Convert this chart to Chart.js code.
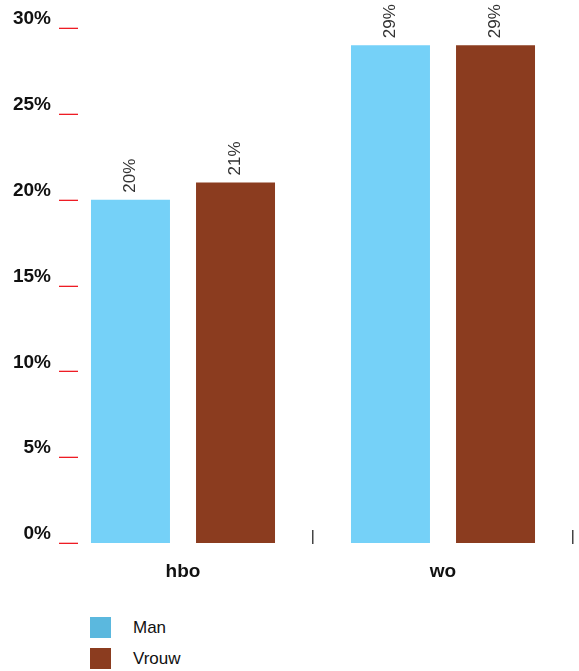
<!DOCTYPE html>
<html lang="nl">
<head>
  <meta charset="UTF-8">
  <title>hbo / wo</title>
  <script src="https://cdn.jsdelivr.net/npm/chart.js"></script>
  <style>
    body {
      margin: 0;
      background: #fff;
      font-family: 'Liberation Sans', Arial, sans-serif;
    }
    #wrap {
      position: relative;
      width: 579px;
      height: 671px;
    }
    #box {
      width: 579px;
      height: 600px;
    }
    #legend {
      position: absolute;
      left: 90px;
      top: 617px;
    }
    .item {
      display: flex;
      align-items: center;
      height: 21px;
      margin-bottom: 10px;
      font-size: 17px;
      color: #111;
    }
    .swatch {
      width: 21px;
      height: 21px;
      margin-right: 22px;
    }
  </style>
</head>
<body>
  <div id="wrap">
    <div id="box"><canvas id="chart"></canvas></div>
    <div id="legend"></div>
  </div>

  <script>
    const categories = ["hbo", "wo"];
    const seriesNames = ["Man", "Vrouw"];
    const manValues = [20, 29];
    const vrouwValues = [21, 29];
    const barColors = ["#75d1f8", "#8b3c1f"];
    const legendColors = ["#5bb8de", "#8b3c1f"];
    const yTicks = [0, 5, 10, 15, 20, 25, 30];

    // red tick marks next to the y labels, black boundary ticks on x, rotated labels on bars
    const extras = {
      id: "extras",
      afterDatasetsDraw(chart) {
        const ctx = chart.ctx;
        const area = chart.chartArea;
        const y = chart.scales.y;
        const x = chart.scales.x;

        ctx.save();
        ctx.fillStyle = "#ee1c24";
        yTicks.forEach(v => {
          const py = Math.round(y.getPixelForValue(v));
          ctx.fillRect(area.left + 6, py - 0.3, 19, 1.3);
        });

        const half = (x.getPixelForValue(1) - x.getPixelForValue(0)) / 2;
        ctx.fillStyle = "#444";
        categories.forEach((c, i) => {
          const px = Math.round(x.getPixelForValue(i) + half);
          ctx.fillRect(px - 1, area.bottom - 13, 1.5, 14);
        });

        ctx.fillStyle = "#333";
        ctx.font = "17px 'Liberation Sans', Arial, sans-serif";
        ctx.textAlign = "left";
        ctx.textBaseline = "middle";
        chart.data.datasets.forEach((ds, di) => {
          chart.getDatasetMeta(di).data.forEach((bar, i) => {
            ctx.save();
            ctx.translate(bar.x, bar.y - 7);
            ctx.rotate(-Math.PI / 2);
            ctx.fillText(Math.round(ds.data[i]) + "%", 0, 0);
            ctx.restore();
          });
        });
        ctx.restore();
      }
    };

    new Chart(document.getElementById("chart"), {
      type: "bar",
      data: {
        labels: categories,
        datasets: [
          { label: seriesNames[0], data: manValues, backgroundColor: barColors[0] },
          { label: seriesNames[1], data: vrouwValues, backgroundColor: barColors[1] }
        ]
      },
      options: {
        responsive: true,
        maintainAspectRatio: false,
        animation: false,
        categoryPercentage: 0.808,
        barPercentage: 0.752,
        layout: { padding: { top: 28, right: 6, left: 0, bottom: 0 } },
        plugins: {
          legend: { display: false },
          tooltip: { enabled: false }
        },
        scales: {
          x: {
            grid: { display: false, drawTicks: false, tickLength: 0 },
            border: { display: false },
            ticks: {
              color: "#111",
              padding: 17,
              font: { family: "'Liberation Sans', Arial, sans-serif", size: 19, weight: "bold" }
            },
            afterFit: s => { s.height = 57; }
          },
          y: {
            min: 0,
            max: 30,
            grid: { display: false, drawTicks: false, tickLength: 0 },
            border: { display: false },
            ticks: {
              stepSize: 5,
              padding: 2,
              labelOffset: -9,
              color: "#111",
              font: { family: "'Liberation Sans', Arial, sans-serif", size: 19, weight: "bold" },
              callback: v => v + "%"
            },
            afterFit: s => { s.width = 53; }
          }
        }
      },
      plugins: [extras]
    });

    const legend = document.getElementById("legend");
    seriesNames.forEach((name, i) => {
      const item = document.createElement("div");
      item.className = "item";
      const sw = document.createElement("span");
      sw.className = "swatch";
      sw.style.background = legendColors[i];
      const txt = document.createElement("span");
      txt.textContent = name;
      item.appendChild(sw);
      item.appendChild(txt);
      legend.appendChild(item);
    });
  </script>
</body>
</html>
